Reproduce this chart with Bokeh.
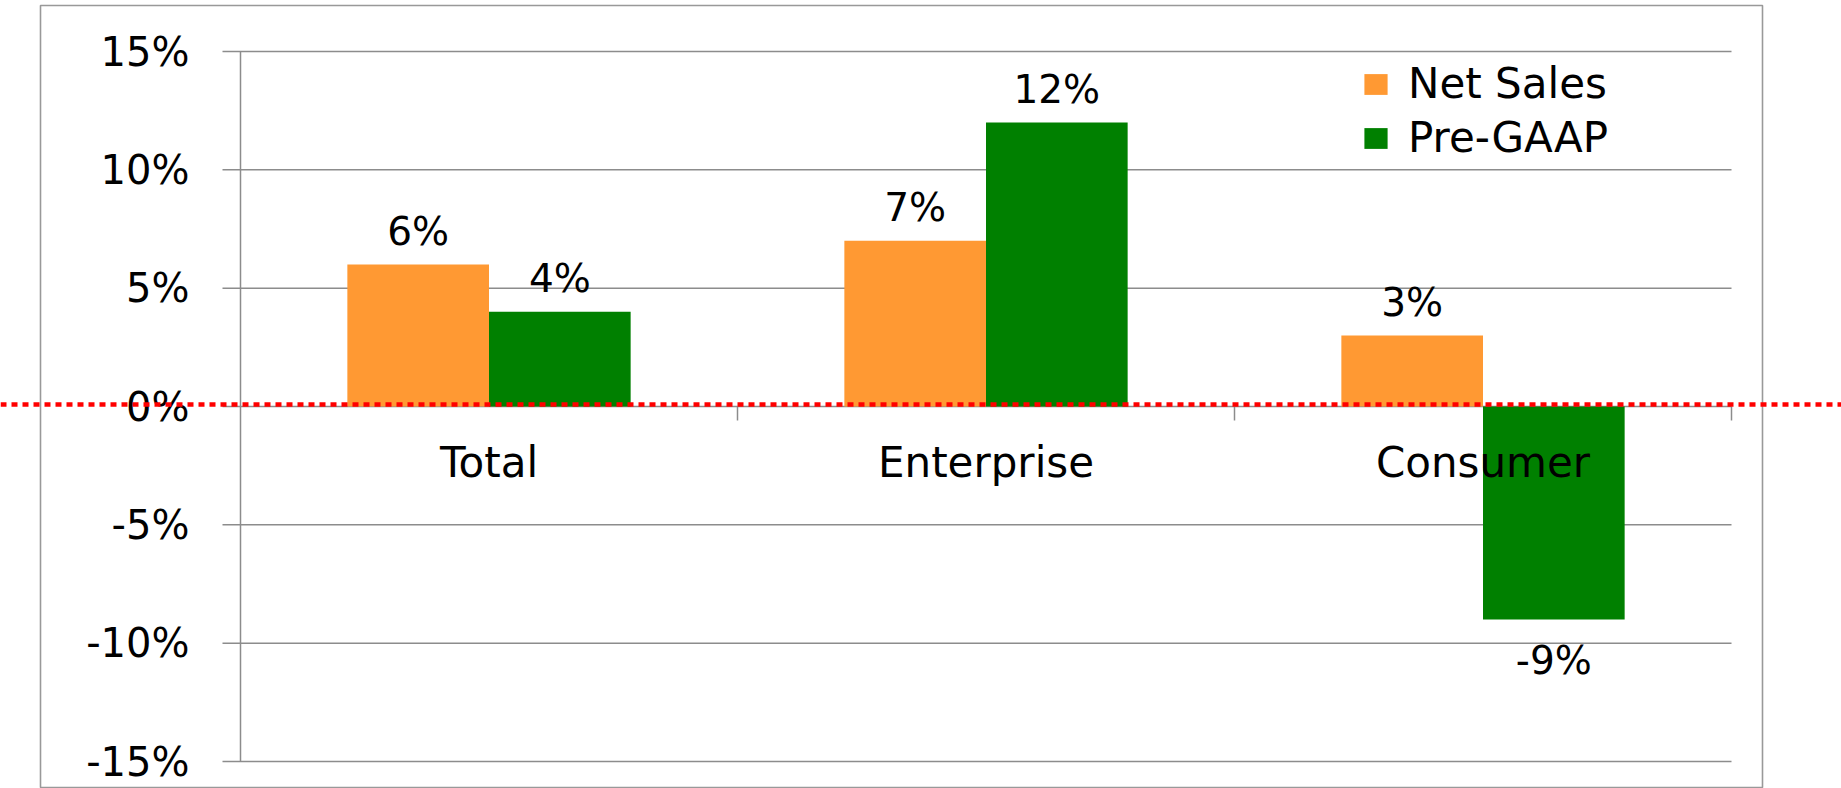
from bokeh.plotting import figure
from bokeh.models import (ColumnDataSource, Range1d, Span, Legend, LegendItem)
from bokeh.transform import dodge
from bokeh.core.properties import value
from bokeh.embed import file_html
from bokeh.resources import INLINE

# ---- data ----
categories = ["Total", "Enterprise", "Consumer"]
net_sales = [6, 7, 3]
pre_gaap = [4, 12, -9]
net_sales_labels = ["6%", "7%", "3%"]
pre_gaap_labels = ["4%", "12%", "-9%"]
series_names = ["Net Sales", "Pre-GAAP"]
y_ticks = [-15, -10, -5, 0, 5, 10, 15]
y_tick_labels = ["-15%", "-10%", "-5%", "0%", "5%", "10%", "15%"]

# ---- layout / style ----
FONT = "DejaVu Sans"
ORANGE = "#FF9933"
GREEN = "#008000"
GRID = "#8c8c8c"
W, H = 1841, 788
PLOT_L, PLOT_R = 240, 1731      # px of plot area (category axis extent)
PLOT_T, PLOT_B = 51, 761        # px of y = max tick / min tick
BAR_W = 0.285
OFF = 0.1425

n = len(categories)
y_lo, y_hi = y_ticks[0], y_ticks[-1]
x_per_px = n / (PLOT_R - PLOT_L)
y_per_px = (y_hi - y_lo) / (PLOT_B - PLOT_T)
x_start = -0.5 - PLOT_L * x_per_px
y_end = y_hi + PLOT_T * y_per_px


def dx(px):
    return x_start + px * x_per_px


def dy(px):
    return y_end - px * y_per_px


p = figure(width=W, height=H,
           x_range=Range1d(x_start, x_start + W * x_per_px),
           y_range=Range1d(y_end - H * y_per_px, y_end),
           x_axis_location=None, y_axis_location=None,
           output_backend="svg", toolbar_location=None,
           min_border=0)
p.outline_line_color = None
p.background_fill_color = "white"
p.border_fill_color = "white"
p.grid.visible = False

# outer border box
p.quad(left=[dx(40)], right=[dx(1762)], top=[dy(5)], bottom=[dy(787)],
       fill_color=None, line_color="#999999", line_width=1.6)

# horizontal gridlines (with outer tick stubs) and y axis line
tick_out = 18 * x_per_px
p.segment(x0=[-0.5 - tick_out] * len(y_ticks), x1=[n - 0.5] * len(y_ticks),
          y0=y_ticks, y1=y_ticks, line_color=GRID, line_width=1.5)
p.segment(x0=[-0.5], x1=[-0.5], y0=[y_lo], y1=[y_hi],
          line_color=GRID, line_width=1.5)

# y tick labels
p.text(x=[-0.5] * len(y_ticks), y=y_ticks, text=y_tick_labels, x_offset=-51,
       text_align="right", text_baseline="middle", text_font=value(FONT),
       text_font_size="40px", text_color="black")

xs = list(range(n))


def lbl_off(vals):
    return [-33 if v >= 0 else 41 for v in vals]


src = ColumnDataSource(dict(
    x=xs, cat=categories, net=net_sales, pre=pre_gaap,
    net_lbl=net_sales_labels, pre_lbl=pre_gaap_labels,
    net_off=lbl_off(net_sales), pre_off=lbl_off(pre_gaap),
))

# category boundary ticks on the zero line
p.segment(x0=dodge("x", 0.5), y0=0, x1=dodge("x", 0.5), y1=-14 * y_per_px,
          source=src, line_color=GRID, line_width=1.5)

r1 = p.vbar(x=dodge("x", -OFF), top="net", bottom=0, width=BAR_W,
            source=src, fill_color=ORANGE, line_color=None)
r2 = p.vbar(x=dodge("x", OFF), top="pre", bottom=0, width=BAR_W,
            source=src, fill_color=GREEN, line_color=None)

# data labels
p.text(x=dodge("x", -OFF), y="net", text="net_lbl", y_offset="net_off",
       source=src, text_align="center", text_baseline="middle",
       text_font=value(FONT), text_font_size="39px", text_color="black")
p.text(x=dodge("x", OFF), y="pre", text="pre_lbl", y_offset="pre_off",
       source=src, text_align="center", text_baseline="middle",
       text_font=value(FONT), text_font_size="39px", text_color="black")

# category labels below the zero line
p.text(x="x", y=0, text="cat", y_offset=56, source=src,
       text_align="center", text_baseline="middle", text_font=value(FONT),
       text_font_size="42px", text_color="black")

legend = Legend(items=[LegendItem(label=series_names[0], renderers=[r1]),
                       LegendItem(label=series_names[1], renderers=[r2])],
                location="top_right", margin=59, padding=5,
                glyph_width=29, glyph_height=26, label_standoff=18,
                label_width=374, label_height=48, spacing=5,
                label_text_font=FONT, label_text_font_size="42px",
                label_text_color="black",
                border_line_color=None, background_fill_alpha=0)
p.add_layout(legend)

# red dotted zero line across the full width
p.add_layout(Span(location=2 * y_per_px, dimension="width",
                  line_color="#FF0000", line_width=4.5, line_dash="6 5"))

open("out.html", "w").write(file_html(p, INLINE))
